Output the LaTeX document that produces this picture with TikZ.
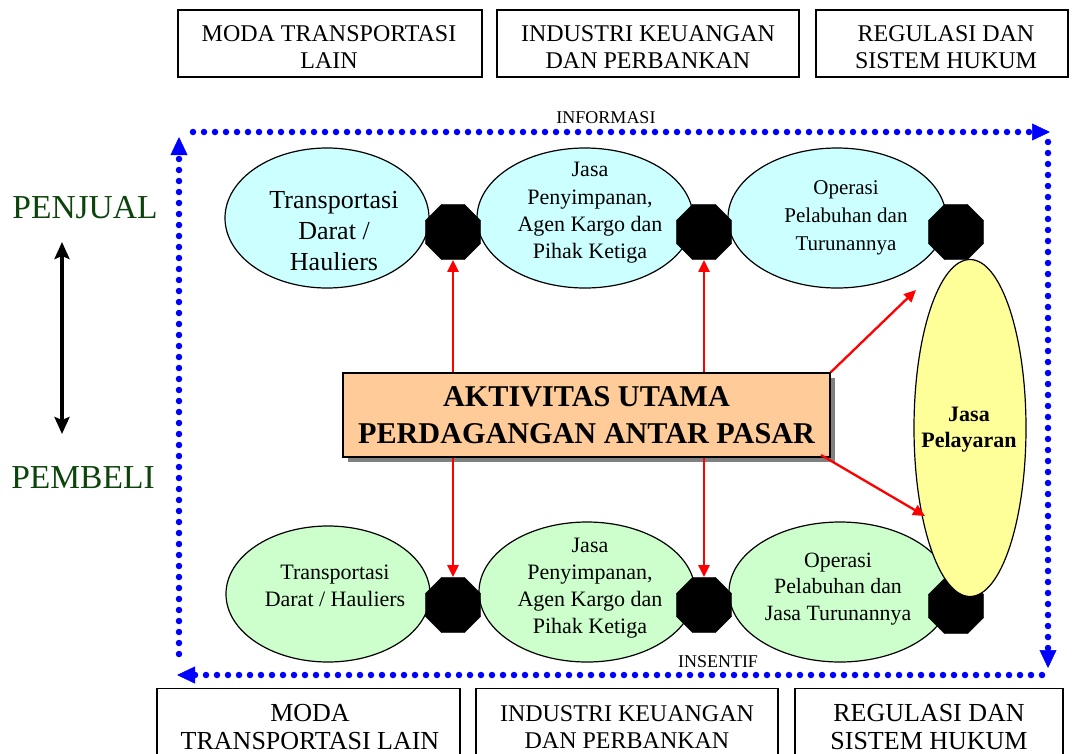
\documentclass[tikz,border=0pt]{standalone}
\usepackage{fontspec}
\setmainfont{Liberation Serif}
\usetikzlibrary{shapes.geometric,arrows.meta,shadows,calc}
\definecolor{landcyan}{HTML}{CCFFFF}
\definecolor{landgreen}{HTML}{CCFFCC}
\definecolor{shipyellow}{HTML}{FFFF99}
\definecolor{coreorange}{HTML}{FFCC99}
\definecolor{rolegreen}{RGB}{12,68,12}
\begin{document}
\begin{tikzpicture}[x=1pt,y=-1pt,
  framebox/.style={draw=black, line width=1.3pt, inner sep=0pt},
  boxtext/.style={align=center, inner sep=0pt, font=\fontsize{24}{27}\selectfont},
  bigboxtext/.style={align=center, inner sep=0pt, font=\fontsize{26}{28}\selectfont},
  cyanell/.style={ellipse, draw=black, line width=1.2pt, fill=landcyan, inner sep=0pt},
  greenell/.style={ellipse, draw=black, line width=1.2pt, fill=landgreen, inner sep=0pt},
  elltext/.style={align=center, inner sep=0pt},
  stopoct/.style={regular polygon, regular polygon sides=8, minimum size=60pt,
    inner sep=0pt, fill=black, draw=black},
  redarrow/.style={draw=red, line width=2.3pt, -{Triangle[length=12pt,width=11pt]}},
  bluedots/.style={draw=blue, line width=6.5pt, line cap=round,
    dash pattern=on 0pt off 11pt, -{Triangle[length=18pt,width=17pt,line width=0.5pt]}},
  flowlabel/.style={font=\fontsize{18}{20}\selectfont, inner sep=0pt},
  rolelabel/.style={text=rolegreen, font=\fontsize{33.5}{36}\selectfont, inner sep=0pt}
]
\useasboundingbox (0,0) rectangle (1073,753);
\clip (0,0) rectangle (1073,753);

% surrounding institutions, top row
\node[framebox, minimum width=304pt, minimum height=67pt] (top1) at (330,43.5) {};
\node[framebox, minimum width=302pt, minimum height=67pt] (top2) at (648,43.5) {};
\node[framebox, minimum width=252pt, minimum height=67pt] (top3) at (942,43.5) {};
\node[boxtext] (top1t) at (329,47) {MODA TRANSPORTASI\\LAIN};
\node[boxtext] (top2t) at (648,47) {INDUSTRI KEUANGAN\\DAN PERBANKAN};
\node[boxtext] (top3t) at (946,47) {REGULASI DAN\\SISTEM HUKUM};

% surrounding institutions, bottom row
\node[framebox, minimum width=303pt, minimum height=100pt, anchor=north] (bot1) at (308.5,688) {};
\node[framebox, minimum width=302pt, minimum height=100pt, anchor=north] (bot2) at (627,688) {};
\node[framebox, minimum width=268pt, minimum height=100pt, anchor=north] (bot3) at (929,688) {};
\node[bigboxtext, anchor=north] (bot1t) at (310,704) {MODA\\TRANSPORTASI LAIN};
\node[boxtext, anchor=north] (bot2t) at (627,705) {INDUSTRI KEUANGAN\\DAN PERBANKAN};
\node[bigboxtext, anchor=north] (bot3t) at (929,704) {REGULASI DAN\\SISTEM HUKUM};

% information / incentive loop
\coordinate (ltop) at (193,132);
\coordinate (rtop) at (1050,132);
\coordinate (rhi) at (1048,142);
\coordinate (rlo) at (1048,668);
\coordinate (rbot) at (1042,675);
\coordinate (lbot) at (177,675);
\coordinate (llo) at (179,654);
\coordinate (lhi) at (179,137);
\draw[bluedots] (ltop) -- (rtop);
\draw[bluedots] (rhi) -- (rlo);
\draw[bluedots] (rbot) -- (lbot);
\draw[bluedots] (llo) -- (lhi);
\node[flowlabel] (info) at (606,118) {INFORMASI};
\node[flowlabel] (insentif) at (718,662) {INSENTIF};

% seller / buyer axis
\node[rolelabel] (seller) at (85,208) {PENJUAL};
\node[rolelabel] (buyer) at (83,478) {PEMBELI};
\coordinate (axistop) at (62,242);
\coordinate (axisbot) at (62,434);
\draw[line width=4.5pt, {Stealth[length=17pt,width=15pt,inset=3pt]}-{Stealth[length=17pt,width=15pt,inset=3pt]}]
  (axistop) -- (axisbot);

% seller-side services
\node[cyanell, minimum width=204pt, minimum height=140pt] (e1) at (327,218) {};
\node[cyanell, minimum width=216pt, minimum height=140pt] (e2) at (585,218) {};
\node[cyanell, minimum width=218pt, minimum height=140pt] (e3) at (837,218) {};
\node[elltext, font=\fontsize{26}{31}\selectfont] (t1) at (334,231)
  {Transportasi\\Darat /\\Hauliers};
\node[elltext, font=\fontsize{22}{27.3}\selectfont] (t2) at (590,213)
  {Jasa\\Penyimpanan,\\Agen Kargo dan\\Pihak Ketiga};
\node[elltext, font=\fontsize{21}{28}\selectfont] (t3) at (846,218)
  {Operasi\\Pelabuhan dan\\Turunannya};

% buyer-side services
\node[greenell, minimum width=204pt, minimum height=136pt] (e4) at (328,594) {};
\node[greenell, minimum width=216pt, minimum height=140pt] (e5) at (587,592) {};
\node[greenell, minimum width=222pt, minimum height=140pt] (e6) at (840,592) {};
\node[elltext, font=\fontsize{22}{26.5}\selectfont] (t4) at (335,586)
  {Transportasi\\Darat / Hauliers};
\node[elltext, font=\fontsize{22}{27}\selectfont] (t5) at (590,588)
  {Jasa\\Penyimpanan,\\Agen Kargo dan\\Pihak Ketiga};
\node[elltext, font=\fontsize{21.8}{26.5}\selectfont] (t6) at (838,589)
  {Operasi\\Pelabuhan dan\\Jasa Turunannya};

% interfaces between services
\node[stopoct] (o1) at (453,232) {};
\node[stopoct] (o2) at (704,232) {};
\node[stopoct] (o3) at (956,232) {};
\node[stopoct] (o4) at (453,605) {};
\node[stopoct] (o5) at (704,605) {};
\node[stopoct] (o6) at (956,606) {};

% shipping line
\node[ellipse, draw=black, line width=1.2pt, fill=shipyellow, inner sep=0pt,
  minimum width=112pt, minimum height=337pt] (ship) at (970,428) {};
\node[elltext, font=\bfseries\fontsize{22}{26}\selectfont] (shipt) at (969,430) {Jasa\\Pelayaran};

% core activity
\node[draw=black, line width=1.3pt, fill=coreorange, minimum width=487pt, minimum height=84pt,
  align=center, inner sep=0pt, font=\bfseries\fontsize{30.2}{37}\selectfont,
  drop shadow={shadow xshift=5pt, shadow yshift=-5pt, fill=black!50, opacity=1}]
  (core) at (586.5,415) {AKTIVITAS UTAMA\\PERDAGANGAN ANTAR PASAR};

% links from the core activity
\draw[redarrow] (core.north -| o1) -- (o1.south);
\draw[redarrow] (core.north -| o2) -- (o2.south);
\draw[redarrow] (core.south -| o4) -- (o4.north);
\draw[redarrow] (core.south -| o5) -- (o5.north);
\coordinate (shipin1) at (916,290);
\coordinate (shipin2) at (925,516);
\coordinate (coreout2) at (821,455);
\draw[redarrow] (core.north east) -- (shipin1);
\draw[redarrow] (coreout2) -- (shipin2);
\end{tikzpicture}
\end{document}
